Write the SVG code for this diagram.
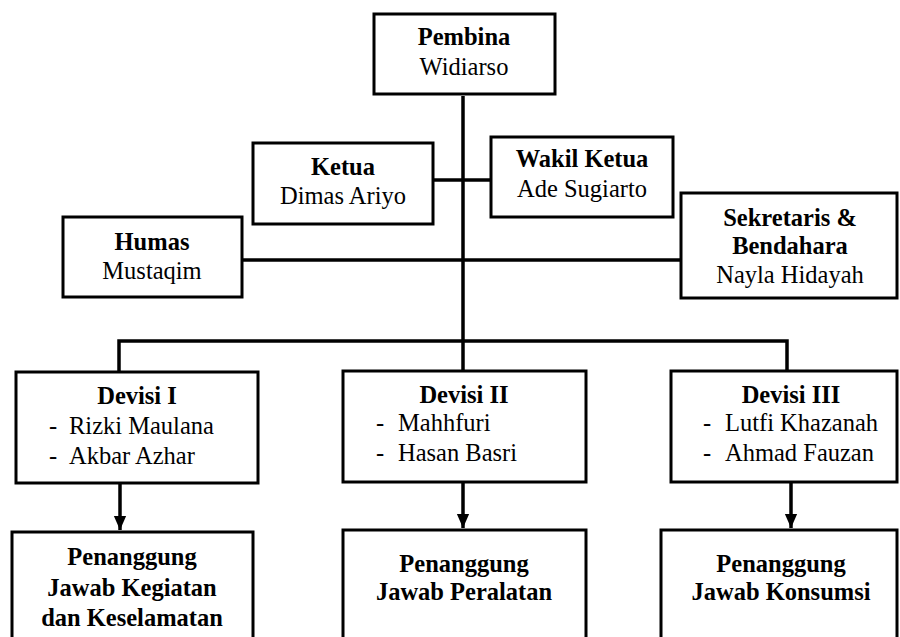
<svg xmlns="http://www.w3.org/2000/svg" width="900" height="637" viewBox="0 0 900 637" font-family="'Liberation Serif', 'DejaVu Serif', serif" font-size="24.5">
<defs>
<style>
.box{fill:#fff;stroke:#000;stroke-width:3}
.ln{fill:none;stroke:#000;stroke-width:3.5}
.b{font-weight:bold}
.c{text-anchor:middle}
</style>
<marker id="arr" markerWidth="14" markerHeight="16" refX="16" refY="7" orient="auto" markerUnits="userSpaceOnUse" viewBox="0 0 16 14">
<path d="M0,0 L16,7 L0,14 Z" fill="#000"/>
</marker>
</defs>
<rect width="900" height="637" fill="#fff"/>
<g id="connectors">
<path class="ln" d="M463,96 V371"/>
<path class="ln" d="M433,180 H491"/>
<path class="ln" d="M242,260 H681"/>
<path class="ln" d="M119,372 V341 H787 V371"/>
<path class="ln" d="M120,483 V530" marker-end="url(#arr)"/>
<path class="ln" d="M463,482 V528" marker-end="url(#arr)"/>
<path class="ln" d="M791,482 V528" marker-end="url(#arr)"/>
</g>
<g id="pembina">
<rect class="box" x="374" y="14" width="181" height="80"/>
<text class="b c" x="464" y="45">Pembina</text>
<text class="c" x="464" y="75">Widiarso</text>
</g>
<g id="ketua">
<rect class="box" x="253" y="143" width="180" height="81"/>
<text class="b c" x="343" y="175">Ketua</text>
<text class="c" x="343" y="204">Dimas Ariyo</text>
</g>
<g id="wakil">
<rect class="box" x="491" y="137" width="182" height="80"/>
<text class="b c" x="582" y="167">Wakil Ketua</text>
<text class="c" x="582" y="197">Ade Sugiarto</text>
</g>
<g id="humas">
<rect class="box" x="63" y="217" width="179" height="80"/>
<text class="b c" x="152" y="250">Humas</text>
<text class="c" x="152" y="279">Mustaqim</text>
</g>
<g id="sekretaris">
<rect class="box" x="681" y="193" width="216" height="105"/>
<text class="b c" x="790" y="226">Sekretaris &amp;</text>
<text class="b c" x="790" y="254">Bendahara</text>
<text class="c" x="790" y="283">Nayla Hidayah</text>
</g>
<g id="devisi1">
<rect class="box" x="16" y="372" width="242" height="111"/>
<text class="b c" x="137" y="404">Devisi I</text>
<text x="49" y="434">-</text><text x="69" y="434">Rizki Maulana</text>
<text x="49" y="464">-</text><text x="69" y="464">Akbar Azhar</text>
</g>
<g id="devisi2">
<rect class="box" x="343" y="371" width="243" height="111"/>
<text class="b c" x="464" y="403">Devisi II</text>
<text x="376" y="431">-</text><text x="398" y="431">Mahhfuri</text>
<text x="376" y="461">-</text><text x="398" y="461">Hasan Basri</text>
</g>
<g id="devisi3">
<rect class="box" x="671" y="371" width="226" height="111"/>
<text class="b c" x="791" y="403">Devisi III</text>
<text x="703" y="431">-</text><text x="725" y="431">Lutfi Khazanah</text>
<text x="703" y="461">-</text><text x="725" y="461">Ahmad Fauzan</text>
</g>
<g id="pj1">
<rect class="box" x="12" y="532" width="241" height="120"/>
<text class="b c" x="132" y="565">Penanggung</text>
<text class="b c" x="132" y="596">Jawab Kegiatan</text>
<text class="b c" x="132" y="626">dan Keselamatan</text>
</g>
<g id="pj2">
<rect class="box" x="343" y="530" width="243" height="120"/>
<text class="b c" x="464" y="572">Penanggung</text>
<text class="b c" x="464" y="600">Jawab Peralatan</text>
</g>
<g id="pj3">
<rect class="box" x="661" y="530" width="236" height="120"/>
<text class="b c" x="781" y="572">Penanggung</text>
<text class="b c" x="781" y="600">Jawab Konsumsi</text>
</g>
</svg>
